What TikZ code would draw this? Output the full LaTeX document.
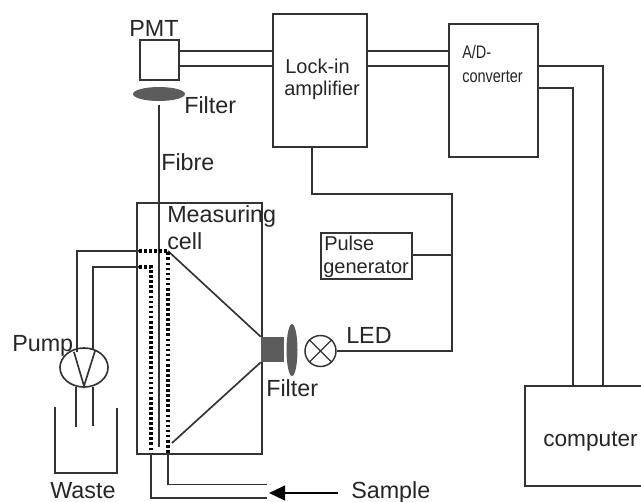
\documentclass[tikz,border=0pt]{standalone}
\usepackage{fontspec}
\setmainfont{Liberation Sans}
\usetikzlibrary{arrows.meta,shapes.geometric}
\definecolor{ln}{gray}{0.2}
\definecolor{fillg}{gray}{0.36}
\definecolor{txt}{gray}{0.15}
\tikzset{
  wire/.style={draw=ln,line width=1.25pt,line cap=butt,line join=miter},
  dots/.style={draw=black,line width=2.4pt,dash pattern=on 2pt off 1.8pt},
  box/.style={draw=ln,line width=1.35pt,inner sep=0pt,anchor=north west},
  lab/.style={font=\fontsize{17.5pt}{20pt}\selectfont,inner sep=0pt,text=txt,anchor=base west},
  midlab/.style={font=\fontsize{15pt}{17pt}\selectfont,inner sep=0pt,text=txt,anchor=base west},
  adlab/.style={font=\fontsize{13.6pt}{17pt}\selectfont,inner sep=0pt,text=txt,anchor=base west},
}
\newcommand{\bx}[5]{\node[box,minimum width=#4*0.75pt,minimum height=#5*0.75pt] (#1) at (#2,#3) {};}
\begin{document}
\begin{tikzpicture}[x=0.75pt,y=-0.75pt]
\path[use as bounding box,fill=white] (0,0) rectangle (641,501);
% boxes
\bx{cell}{136}{202}{125}{251}
\bx{pmt}{139}{39}{39}{40}
\bx{lock}{272}{13}{94}{133}
\bx{ad}{448}{23}{89}{133}
\bx{pulse}{320}{232}{91}{46}
% computer: the right edge is beyond the frame
\draw[wire] (641,386) -- (525,386) -- (525,486) -- (641,486);
\coordinate (compT) at (525,386);
% row and column helpers
\coordinate (r51) at (0,51);
\coordinate (r66) at (0,66);
\coordinate (r88) at (0,88);
\coordinate (c573) at (573,0);
\coordinate (c603) at (603,0);
\coordinate (j1) at (452,194);
\coordinate (j2) at (452,255);
% fibre
\coordinate (fibT) at (159,105);
\coordinate (fibB) at (159,447);
\draw[wire] (fibT) -- (fibB);
% filters
\node[ellipse,fill=fillg,minimum width=52*0.75pt,minimum height=14*0.75pt,inner sep=0pt] (f1) at (159,94) {};
\node[ellipse,fill=fillg,minimum width=11*0.75pt,minimum height=52*0.75pt,inner sep=0pt] (f2) at (292,350) {};
\node[fill=fillg,minimum width=23*0.75pt,minimum height=25*0.75pt,inner sep=0pt] (lens) at (272.5,349.5) {};
% PMT to lock-in, lock-in to AD
\draw[wire] (pmt.east |- r51) -- (lock.west |- r51);
\draw[wire] (pmt.east |- r66) -- (lock.west |- r66);
\draw[wire] (lock.east |- r51) -- (ad.west |- r51);
\draw[wire] (lock.east |- r66) -- (ad.west |- r66);
% AD to computer
\draw[wire] (ad.east |- r66) -| (c603 |- compT);
\draw[wire] (539,88) -| (c573 |- compT);
% LED
\node[circle,draw=ln,line width=1.1pt,minimum size=31*0.75pt,inner sep=0pt] (led) at (320.5,351) {};
\draw[wire,line width=1pt] (led.north west) -- (led.south east) (led.north east) -- (led.south west);
% lock-in to LED
\draw[wire] (lock.south -| 312,0) |- (j1) -- (j2) |- (led.east);
\draw[wire] (pulse.east |- j2) -- (j2);
% cell internals
\draw[wire] (168,251) -- (lens.north west);
\draw[wire] (172,443) -- (lens.south west);
\draw[dots] (139,251) -- (168,251) -- (168,453);
\draw[dots] (139,267) -- (151,267) -- (151,453);
\coordinate (a1) at (267,484.5);
\coordinate (a2) at (267,498);
\draw[wire] (139,251) -- (77,251) -- (77,352);
\draw[wire] (139,267) -- (93,267) -- (93,350);
\draw[wire] (168,453) |- (a1);
\draw[wire] (151,453) |- (a2);
% pump
\node[ellipse,draw=ln,line width=1.25pt,minimum width=48*0.75pt,minimum height=39*0.75pt,inner sep=0pt] (pump) at (84,367.5) {};
\draw[wire] (74,352) -- (84,386) -- (95,351);
\draw[wire] (76,387) -- (76,427) (93,387) -- (93,426);
\draw[wire] (55,407) -- (55,473) -- (117,473) -- (117,408);
% arrow
\coordinate (arT) at (338,493);
\coordinate (arH) at (269,493);
\draw[draw=black,line width=1.6pt,-{Triangle[length=12pt,width=11pt]}] (arT) -- (arH);
% labels
\node[lab] (l1) at (129,36) {PMT};
\node[lab] (l2) at (184,113) {Filter};
\node[lab] (l3) at (161,170) {Fibre};
\node[lab] (l4) at (167,222) {Measuring};
\node[lab] (l4b) at (167,249) {cell};
\node[lab] (l5) at (12,351) {Pump};
\node[lab] (l6) at (50,498) {Waste};
\node[lab] (l7) at (266,396) {Filter};
\node[lab] (l8) at (346,343) {LED};
\node[lab] (l9) at (351,498) {Sample};
\node[midlab] (l10) at (285,73) {Lock-in};
\node[midlab] (l10b) at (284,95) {amplifier};
\node[adlab] (l11) at (462,58) {\scalebox{.8}[1]{A/D-}};
\node[adlab] (l11b) at (462,82) {\scalebox{.8}[1]{converter}};
\node[midlab] (l12) at (324,250) {Pulse};
\node[midlab] (l12b) at (323,273) {generator};
\node[lab,font=\fontsize{17pt}{20pt}\selectfont] (l13) at (543,446) {computer};
\end{tikzpicture}
\end{document}
